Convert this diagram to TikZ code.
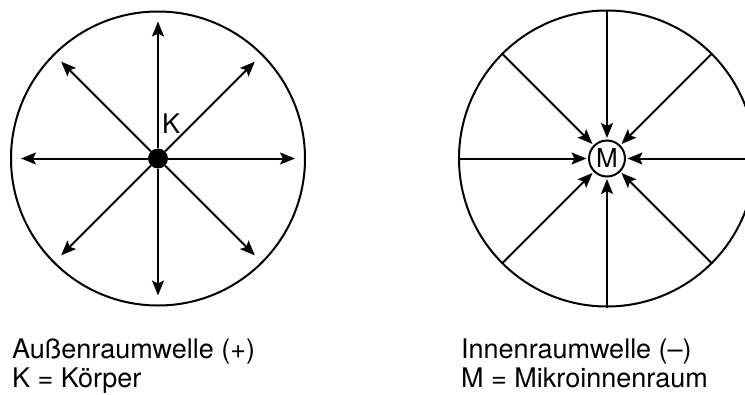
\documentclass[tikz,border=0pt]{standalone}
\usepackage{fontspec}
\setmainfont{TeX Gyre Heros}
\usetikzlibrary{arrows.meta}
\begin{document}
\begin{tikzpicture}[x=1pt,y=-1pt,
  lw/.style={line width=2pt},
  arr/.style={lw,-{Stealth[length=15pt,width=12pt,inset=3pt]}},
  txt/.style={font=\fontsize{27}{31}\selectfont, inner sep=0pt, anchor=base west}]
\clip (0,0) rectangle (745,394);
\useasboundingbox (0,0) rectangle (745,394);
% left diagram
\node[circle, lw, draw, minimum size=294pt, inner sep=0pt] (outerL) at (158,158.5) {};
\node[circle, fill, minimum size=20pt, inner sep=0pt] (K) at (158,158.5) {};
\foreach \a in {0,45,...,315}{
  \coordinate (tL\a) at ([shift={(\a:137)}]K.center);
  \draw[arr] (K) -- (tL\a);
}
\node[txt] (Klbl) at (162,133) {K};
% right diagram
\node[circle, lw, draw, minimum size=296pt, inner sep=0pt] (outerR) at (607,158.5) {};
\node[circle, lw, draw, minimum size=36pt, inner sep=0pt, font=\fontsize{26}{30}\selectfont] (M) at (607,158.5) {M};
\foreach \a in {0,45,...,315}{
  \draw[arr, shorten >=1.5pt] (outerR.\a) -- (M);
}
% captions
\node[txt] (capL1) at (12,358) {Außenraumwelle (+)};
\node[txt] (capL2) at (12,387) {K = Körper};
\node[txt] (capR1) at (461,358) {Innenraumwelle (–)};
\node[txt] (capR2) at (461,387) {M = Mikroinnenraum};
\end{tikzpicture}
\end{document}
